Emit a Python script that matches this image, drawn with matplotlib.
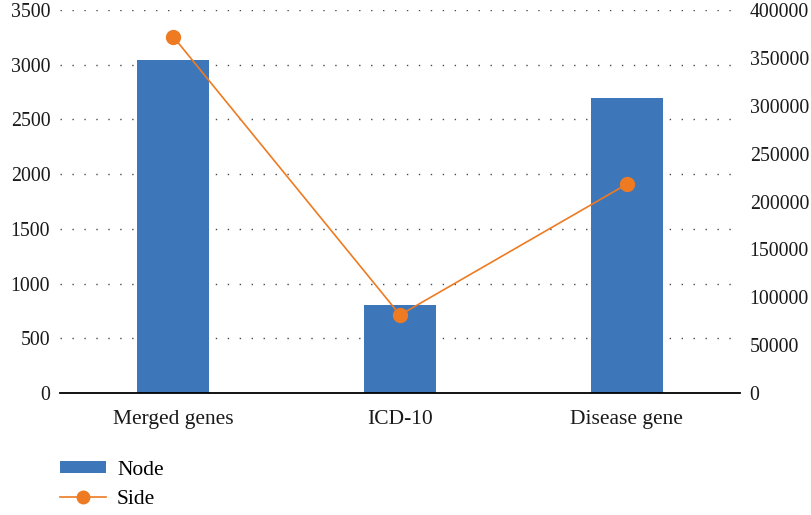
import matplotlib
matplotlib.use("Agg")
import matplotlib.pyplot as plt
from matplotlib.lines import Line2D
from matplotlib.patches import Patch

categories = ["Merged genes", "ICD-10", "Disease gene"]
node_counts = [3040, 800, 2700]
side_counts = [372000, 81500, 218000]
left_ticks = [0, 500, 1000, 1500, 2000, 2500, 3000, 3500]
right_ticks = [0, 50000, 100000, 150000, 200000, 250000, 300000, 350000, 400000]

bar_color = "#3D76B9"
line_color = "#EE7B22"
label_size = 15.5
number_size = 14.3

plt.rcParams["font.family"] = ["Liberation Serif", "DejaVu Serif"]

fig = plt.figure(figsize=(8.11, 5.15), dpi=100)
ax = fig.add_axes([60 / 811, 1 - 393 / 515, 680 / 811, 383 / 515])
ax2 = ax.twinx()

x = list(range(len(categories)))
ax.bar(x, node_counts, width=0.317, color=bar_color, zorder=2)
ax.set_xlim(-0.5, len(categories) - 0.5)
ax.set_ylim(0, 3500)
ax.set_yticks(left_ticks)
ax.set_xticks(x)
ax.set_xticklabels(categories)
for yv in left_ticks[1:]:
    ax.axhline(yv, color="#4a4a4a", linestyle=(0, (1.0, 7.6)), linewidth=1.0, zorder=1)

ax2.plot(x, side_counts, color=line_color, linewidth=1.2, marker="o",
         markersize=10, zorder=3)
ax2.set_ylim(0, 400000)
ax2.set_yticks(right_ticks)

for a in (ax, ax2):
    for s in ("top", "left", "right"):
        a.spines[s].set_visible(False)
    a.tick_params(length=0, labelsize=number_size, colors="#1a1a1a")
ax.spines["bottom"].set_visible(True)
ax.spines["bottom"].set_linewidth(1.3)
ax2.spines["bottom"].set_visible(False)
ax.tick_params(axis="y", pad=7)
ax.tick_params(axis="x", pad=12, labelsize=label_size)
ax2.tick_params(axis="y", pad=7)

handles = [Patch(facecolor=bar_color, edgecolor="none"),
           Line2D([0], [0], color=line_color, linewidth=1.2, marker="o", markersize=9)]
fig.legend(handles, ["Node", "Side"], loc="upper left",
           bbox_to_anchor=(60 / 811, 1 - 461 / 515), frameon=False,
           borderaxespad=0, borderpad=0,
           fontsize=label_size, handlelength=2.15, handleheight=0.5, labelspacing=0.45,
           handletextpad=0.5)

fig.savefig("out.png", dpi=100)
